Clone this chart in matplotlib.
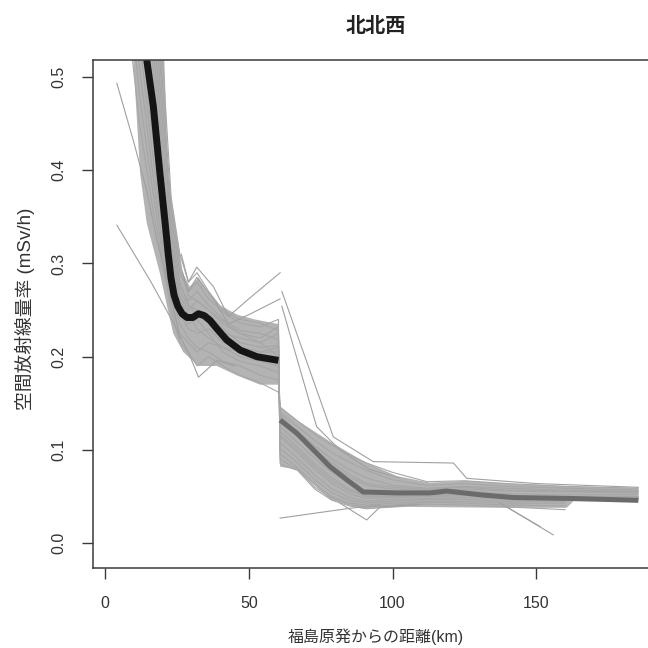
import numpy as np
import matplotlib
matplotlib.use("Agg")
import matplotlib.pyplot as plt

# ---------------- data ----------------
title = "北北西"
xlabel = "福島原発からの距離(km)"
ylabel = "空間放射線量率 (mSv/h)"
xticks = [0, 50, 100, 150]
yticks = [0.0, 0.1, 0.2, 0.3, 0.4, 0.5]
ytick_labels = ["0.0", "0.1", "0.2", "0.3", "0.4", "0.5"]

# fitted curve, near segment (black)
near_x = [14.5, 16.8, 19.1, 20.9, 21.9, 22.9, 24.0, 25.3, 26.8, 28.5, 30.5, 32.5,
          34.5, 36.5, 38.9, 42.3, 47.0, 52.8, 60.3]
near_y = [0.518, 0.468, 0.396, 0.343, 0.312, 0.285, 0.266, 0.254, 0.246, 0.242, 0.242, 0.246,
          0.244, 0.239, 0.230, 0.218, 0.207, 0.200, 0.196]

# fitted curve, far segment (dark gray)
far_x = [60.9, 66.7, 72.5, 78.3, 84.1, 89.8, 101.5, 113.0, 118.9, 130.4, 142.0, 162.9, 185.5]
far_y = [0.132, 0.118, 0.100, 0.082, 0.068, 0.055, 0.054, 0.054, 0.056, 0.052, 0.049, 0.048, 0.046]

# dense envelope of the individual runs (near part)
core1_x = [9.6, 20.5, 21.9, 24.3, 27.1, 29.5, 32.5, 35.5, 40.0, 46.0, 52.0, 60.3,
           60.3, 53.9, 45.8, 38.9, 32.5, 27.2, 23.7, 21.5, 19.1, 14.5, 12.2, 9.6]
core1_y = [0.53, 0.53, 0.396, 0.343, 0.289, 0.275, 0.285, 0.270, 0.255, 0.245, 0.240, 0.235,
           0.170, 0.170, 0.180, 0.190, 0.190, 0.205, 0.225, 0.255, 0.289, 0.343, 0.396, 0.53]
# dense envelope of the individual runs (far part)
core2_x = [60.9, 66.7, 78.3, 89.8, 101.5, 113.0, 125.8, 139.7, 162.9, 185.5,
           185.5, 162.9, 160.6, 139.7, 104.9, 89.8, 78.3, 66.7, 60.9]
core2_y = [0.146, 0.132, 0.109, 0.088, 0.072, 0.065, 0.067, 0.064, 0.061, 0.059,
           0.045, 0.045, 0.038, 0.038, 0.039, 0.037, 0.047, 0.079, 0.082]

# individual runs: near part sampled at g1_x, far part at g2_x
g1_x = [8, 12, 16, 20, 23, 26, 29, 32, 36, 41, 47, 54, 60.3]
g2_x = [60.9, 67, 73, 79, 85, 91, 100, 112, 125, 140, 160, 185.5]

runs_near = [
    [0.56, 0.45, 0.37, 0.300, 0.250, 0.215, 0.205, 0.190, 0.200, 0.190, 0.180, 0.172, 0.162],
    [0.60, 0.48, 0.39, 0.310, 0.260, 0.225, 0.215, 0.205, 0.215, 0.210, 0.200, 0.195, 0.190],
    [0.65, 0.51, 0.41, 0.320, 0.270, 0.235, 0.220, 0.210, 0.205, 0.195, 0.190, 0.180, 0.175],
    [0.70, 0.54, 0.43, 0.335, 0.280, 0.245, 0.230, 0.225, 0.230, 0.215, 0.210, 0.205, 0.210],
    [0.75, 0.57, 0.45, 0.350, 0.290, 0.250, 0.235, 0.240, 0.225, 0.205, 0.195, 0.190, 0.183],
    [0.80, 0.60, 0.48, 0.365, 0.300, 0.255, 0.240, 0.250, 0.240, 0.225, 0.220, 0.215, 0.225],
    [0.86, 0.64, 0.50, 0.380, 0.310, 0.260, 0.245, 0.230, 0.220, 0.210, 0.205, 0.200, 0.198],
    [0.92, 0.68, 0.53, 0.395, 0.315, 0.265, 0.250, 0.260, 0.250, 0.235, 0.225, 0.220, 0.232],
    [0.98, 0.72, 0.56, 0.410, 0.320, 0.270, 0.255, 0.245, 0.235, 0.220, 0.210, 0.205, 0.205],
    [1.05, 0.77, 0.59, 0.430, 0.330, 0.275, 0.260, 0.270, 0.255, 0.240, 0.228, 0.225, 0.218],
    [1.12, 0.82, 0.63, 0.450, 0.340, 0.280, 0.255, 0.250, 0.245, 0.230, 0.215, 0.210, 0.212],
    [1.20, 0.88, 0.67, 0.470, 0.350, 0.290, 0.270, 0.280, 0.262, 0.248, 0.236, 0.232, 0.240],
    [1.28, 0.94, 0.71, 0.490, 0.360, 0.300, 0.265, 0.260, 0.250, 0.238, 0.225, 0.215, 0.200],
    [1.36, 1.00, 0.75, 0.520, 0.370, 0.310, 0.280, 0.290, 0.270, 0.250, 0.240, 0.236, 0.228],
]
runs_far = [
    [0.146, 0.131, 0.117, 0.105, 0.095, 0.086, 0.076, 0.066, 0.067, 0.064, 0.061, 0.059],
    [0.102, 0.086, 0.068, 0.054, 0.046, 0.043, 0.045, 0.047, 0.047, 0.045, 0.045, np.nan],
    [0.140, 0.125, 0.110, 0.097, 0.087, 0.078, 0.068, 0.062, 0.064, 0.061, 0.059, 0.057],
    [0.120, 0.103, 0.085, 0.070, 0.058, 0.051, 0.051, 0.052, 0.053, 0.051, 0.050, 0.050],
    [0.135, 0.120, 0.104, 0.090, 0.079, 0.070, 0.062, 0.059, 0.061, 0.059, 0.057, 0.056],
    [0.090, 0.079, 0.060, 0.048, 0.041, 0.039, 0.041, 0.044, 0.043, 0.041, 0.040, np.nan],
    [0.130, 0.114, 0.097, 0.083, 0.071, 0.062, 0.058, 0.057, 0.058, 0.056, 0.055, 0.054],
    [0.114, 0.097, 0.079, 0.064, 0.053, 0.048, 0.049, 0.050, 0.051, 0.049, 0.048, 0.048],
    [0.125, 0.108, 0.091, 0.076, 0.064, 0.056, 0.054, 0.055, 0.056, 0.053, 0.052, 0.052],
    [0.085, 0.078, 0.058, 0.046, 0.040, 0.037, 0.039, 0.042, 0.041, 0.039, 0.036, np.nan],
    [0.108, 0.091, 0.073, 0.058, 0.049, 0.045, 0.047, 0.048, 0.049, 0.047, 0.046, 0.047],
    [0.096, 0.081, 0.063, 0.050, 0.043, 0.041, 0.043, 0.045, 0.045, 0.043, 0.043, np.nan],
    [0.138, 0.118, 0.100, 0.086, 0.074, 0.064, 0.060, 0.058, 0.060, 0.057, 0.056, 0.055],
    [0.116, 0.100, 0.082, 0.067, 0.056, 0.050, 0.050, 0.051, 0.052, 0.050, 0.049, 0.049],
]

# stray runs that leave the main bundle
stray_a_x = [4.1, 9.8, 14.5, 18.0, 22.5, 26.0]
stray_a_y = [0.493, 0.432, 0.378, 0.325, 0.270, 0.220]
stray_b_x = [4.1, 16.0, 24.0, 29.6, 32.5, 38.9, 45.0]
stray_b_y = [0.341, 0.280, 0.235, 0.200, 0.178, 0.196, 0.190]
stray_c_x = [26.5, 29.0, 31.9, 37.7, 42.9, 50.0, 60.9]
stray_c_y = [0.310, 0.280, 0.296, 0.275, 0.243, 0.262, 0.290]
stray_d_x = [27.0, 29.0, 31.9, 37.7, 42.9, 50.0, 60.9]
stray_d_y = [0.290, 0.270, 0.285, 0.262, 0.235, 0.245, 0.262]
stray_e_x = [61.5, 79.4, 93.3, 121.2, 125.8, 150.0, 185.5]
stray_e_y = [0.270, 0.114, 0.0875, 0.086, 0.0696, 0.064, 0.060]
stray_f_x = [61.5, 73.6, 81.7, 92.0, 102.6]
stray_f_y = [0.254, 0.125, 0.100, 0.079, 0.070]
stray_g_x = [60.9, 85.2, 95.7]
stray_g_y = [0.027, 0.0375, 0.041]
stray_h_x = [139.7, 155.9]
stray_h_y = [0.039, 0.009]
stray_i_x = [137.4, 151.3]
stray_i_y = [0.043, 0.018]
stray_j_x = [81.7, 91.0, 95.7, 110.0]
stray_j_y = [0.043, 0.025, 0.039, 0.042]

# ---------------- drawing ----------------
cjk = ["Liberation Sans", "Noto Sans CJK JP"]
txt_col = "#333333"
gray = "#a6a6a6"

fig = plt.figure(figsize=(6.48, 6.48), dpi=100)
ax = fig.add_axes([93/648, 1 - 568/648, (659 - 93)/648, (568 - 60)/648])
ax.set_xlim(-4.2, 192.7)
ax.set_ylim(-0.0265, 0.518)

ax.fill(core1_x, core1_y, color="#b3b3b3", lw=0)
ax.fill(core2_x, core2_y, color="#b3b3b3", lw=0)

xx = list(g1_x) + list(g2_x)
for a, b in zip(runs_near, runs_far):
    ax.plot(xx, list(a) + list(b), color=gray, lw=0.8)

strays = [(stray_a_x, stray_a_y), (stray_b_x, stray_b_y), (stray_c_x, stray_c_y),
          (stray_d_x, stray_d_y), (stray_e_x, stray_e_y), (stray_f_x, stray_f_y),
          (stray_g_x, stray_g_y), (stray_h_x, stray_h_y), (stray_i_x, stray_i_y),
          (stray_j_x, stray_j_y)]
for sx, sy in strays:
    ax.plot(sx, sy, color="#a0a0a0", lw=0.8)

ax.plot(near_x, near_y, color="#151515", lw=5.0, solid_capstyle="butt", solid_joinstyle="round")
ax.plot(far_x, far_y, color="#6b6b6b", lw=3.6, solid_capstyle="butt", solid_joinstyle="round")

for s in ax.spines.values():
    s.set_color("#3a3a3a")
    s.set_linewidth(1.1)

ax.set_xticks(xticks)
ax.set_xticklabels([str(v) for v in xticks])
ax.set_yticks(yticks)
ax.set_yticklabels(ytick_labels, rotation=90, va="center")
ax.tick_params(axis="both", direction="out", length=8, width=1.0, color="#3a3a3a",
               labelcolor=txt_col, labelsize=11.5)
ax.tick_params(axis="y", pad=11)
ax.tick_params(axis="x", pad=12)
for lab in ax.get_xticklabels() + ax.get_yticklabels():
    lab.set_family(cjk)

fig.text(376/648, 1 - 26/648, title, ha="center", va="center", fontsize=14.5,
         fontweight="bold", family=cjk, color="#222222")
fig.text(376/648, 1 - 637/648, xlabel, ha="center", va="center", fontsize=11.5,
         family=cjk, color=txt_col)
fig.text(25/648, 1 - 309/648, ylabel, ha="center", va="center", fontsize=13.5,
         rotation=90, family=cjk, color=txt_col)

fig.savefig("out.png", dpi=100)
